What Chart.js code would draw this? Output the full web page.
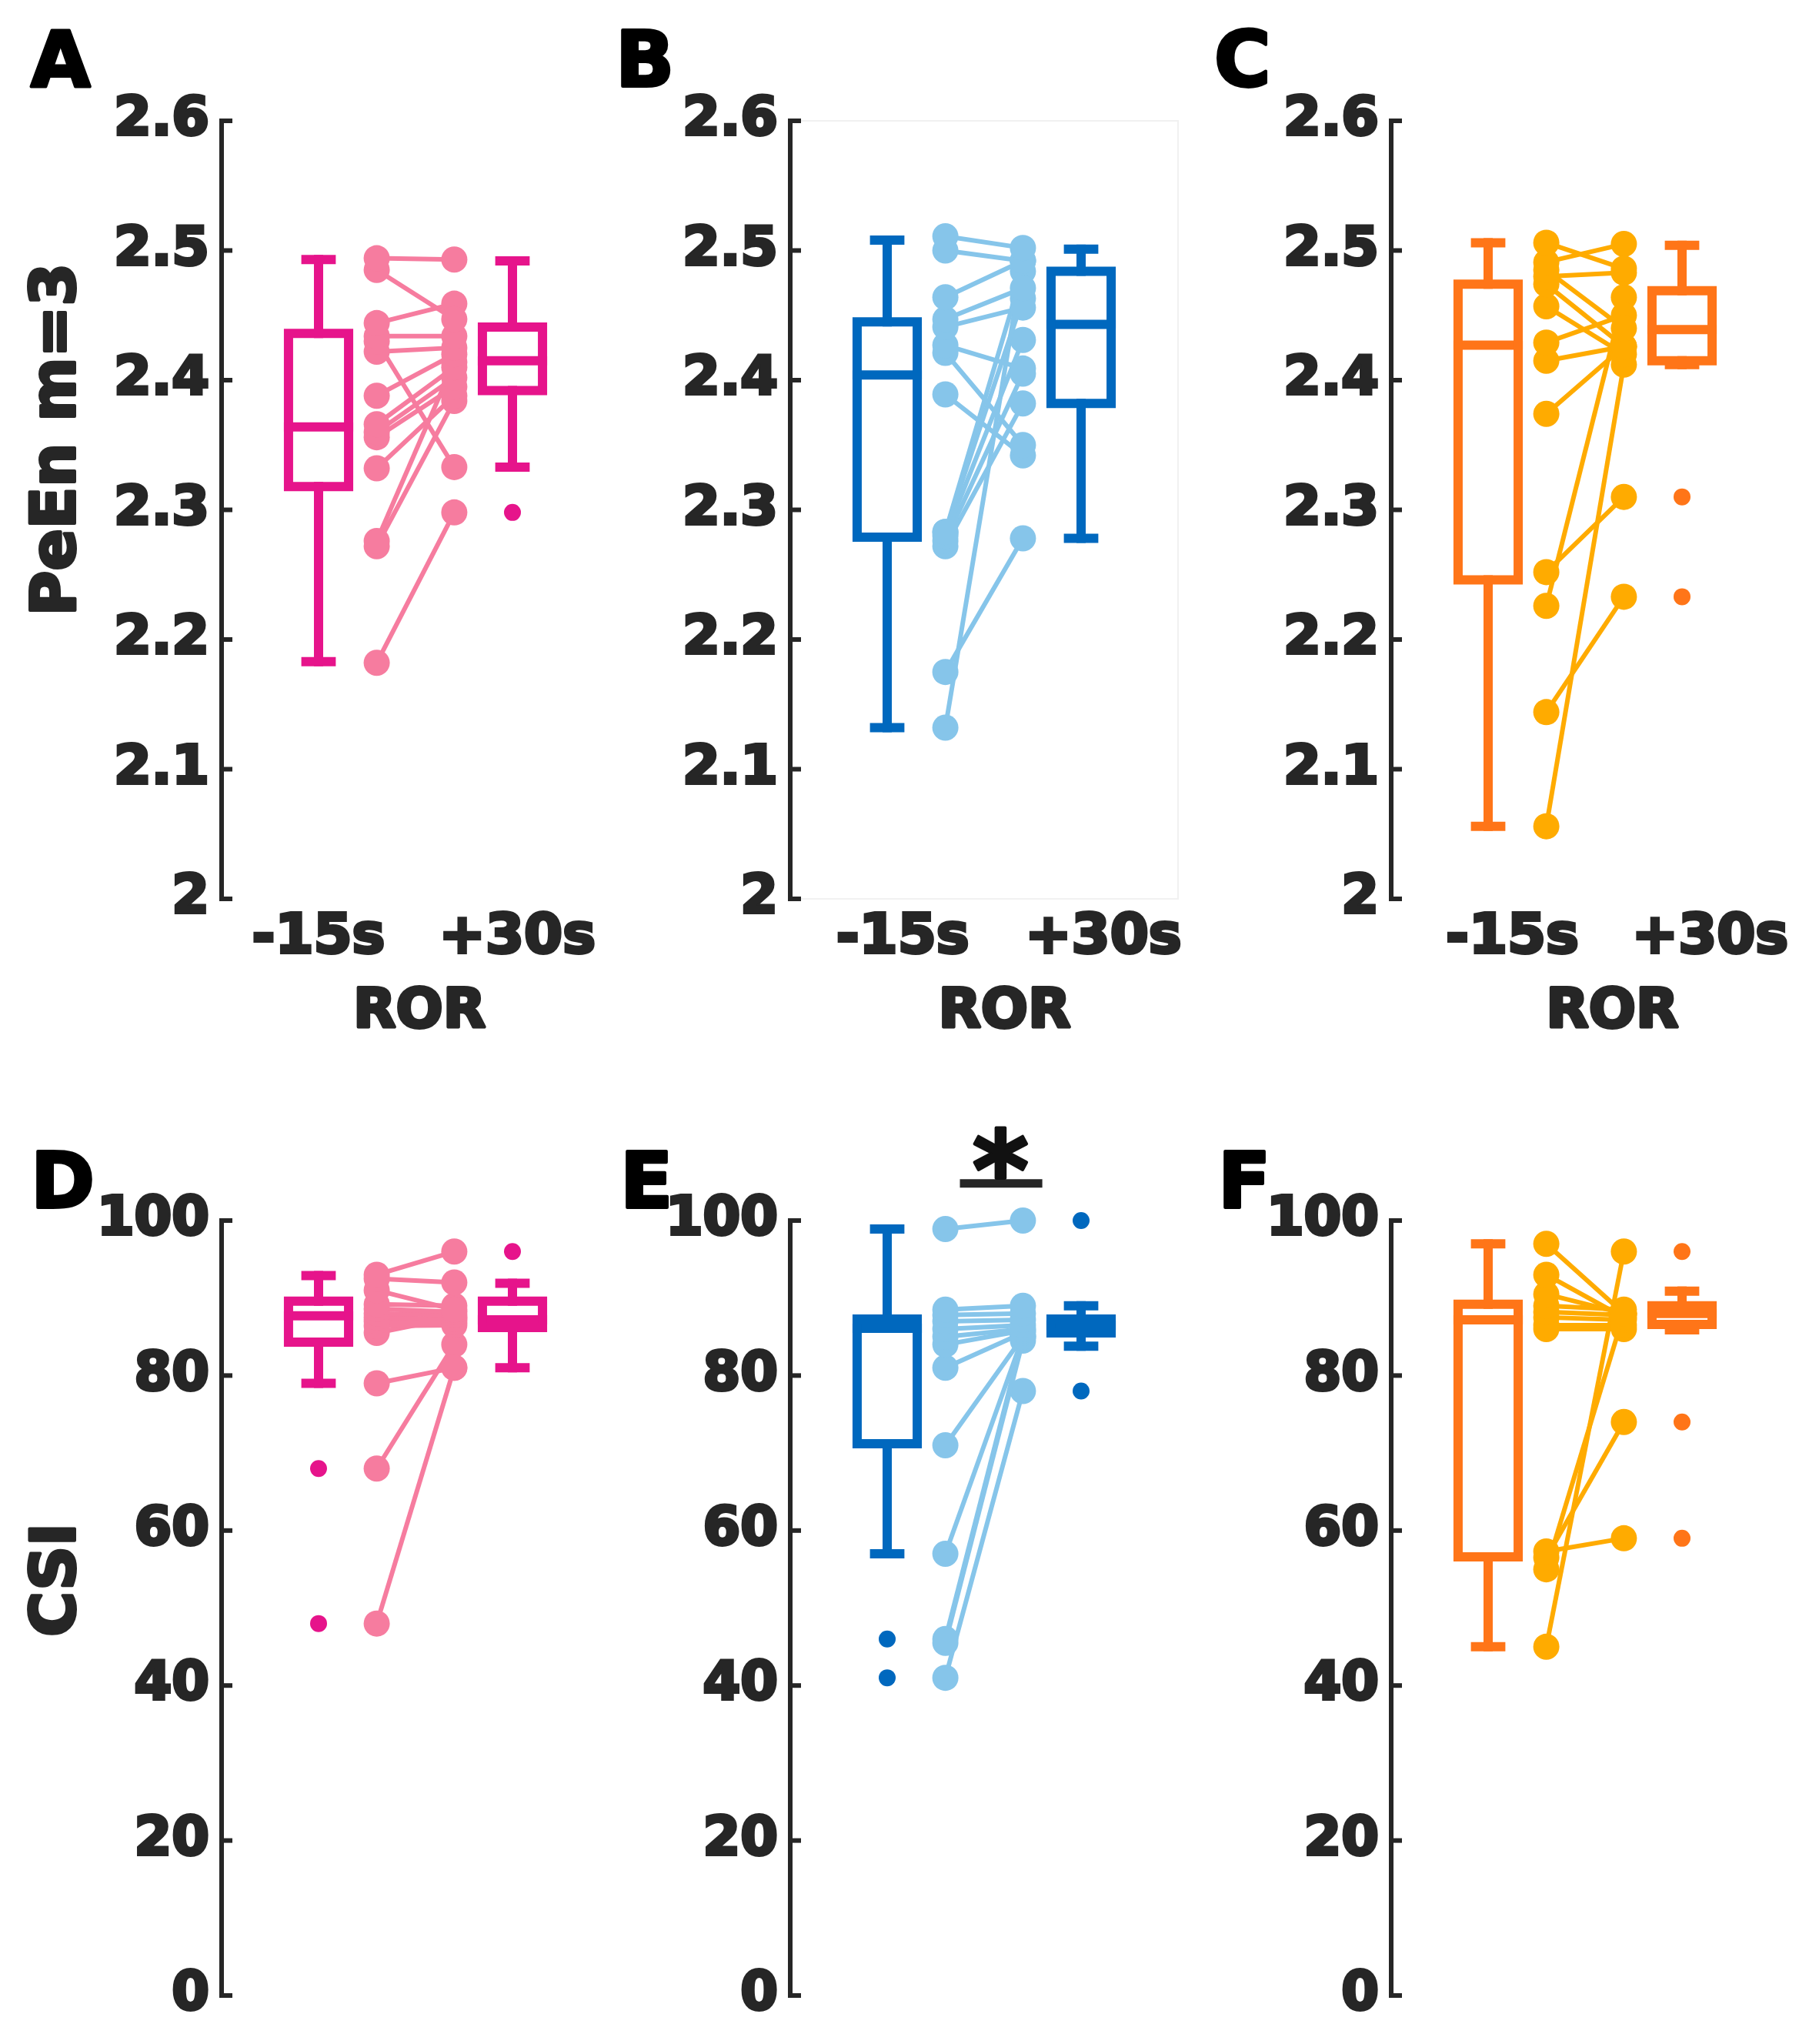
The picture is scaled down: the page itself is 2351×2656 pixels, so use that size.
<!DOCTYPE html>
<html>
<head>
<meta charset="utf-8">
<script src="https://cdn.jsdelivr.net/npm/chart.js@4.4.1/dist/chart.umd.min.js"></script>
<style>
html,body{margin:0;padding:0;background:#ffffff;}
#wrap{position:relative;width:2351px;height:2656px;overflow:hidden;}
#wrap canvas{position:absolute;left:0;top:0;}
</style>
</head>
<body>
<div id="wrap"></div>
<script>
// ================= DATA =================
const panelLetters = ['A', 'B', 'C', 'D', 'E', 'F'];
const yTitles = ['PeEn m=3', 'CSI'];
const xTitle = 'ROR';
const xTickLabels = ['-15s', '+30s'];
// x positions of the two tick labels, per top-row panel (axis units)
const xTickPosA = [1.0, 3.05];
const xTickPosB = [1.16, 3.23];
const xTickPosC = [1.25, 3.29];
const rorTitlePos = [2.04, 2.21, 2.28];

const peenTickValues = [2, 2.1, 2.2, 2.3, 2.4, 2.5, 2.6];
const peenTickLabels = ['2', '2.1', '2.2', '2.3', '2.4', '2.5', '2.6'];
const csiTickValues = [0, 20, 40, 60, 80, 100];
const csiTickLabels = ['0', '20', '40', '60', '80', '100'];

// Box statistics: [min whisker, q1, median, q3, max whisker]
// ---- A : PeEn, group 1 ----
const peenA_boxPre  = [2.183, 2.318, 2.364, 2.436, 2.493];
const peenA_boxPost = [2.333, 2.392, 2.415, 2.441, 2.492];
const peenA_outPre  = [];
const peenA_outPost = [2.298];
const peenA_pre  = [2.494, 2.485, 2.444, 2.434, 2.430, 2.422, 2.388, 2.366, 2.360, 2.356, 2.332, 2.276, 2.272, 2.182];
const peenA_post = [2.493, 2.447, 2.459, 2.434, 2.333, 2.425, 2.420, 2.410, 2.402, 2.395, 2.388, 2.414, 2.384, 2.298];

// ---- B : PeEn, group 2 ----
const peenB_boxPre  = [2.132, 2.279, 2.404, 2.445, 2.508];
const peenB_boxPost = [2.278, 2.382, 2.443, 2.484, 2.501];
const peenB_outPre  = [];
const peenB_outPost = [];
const peenB_pre  = [2.511, 2.500, 2.464, 2.447, 2.441, 2.427, 2.421, 2.389, 2.283, 2.283, 2.280, 2.276, 2.272, 2.175, 2.132];
const peenB_post = [2.502, 2.492, 2.492, 2.471, 2.456, 2.409, 2.350, 2.342, 2.484, 2.463, 2.431, 2.405, 2.382, 2.278, 2.492];

// ---- C : PeEn, group 3 ----
const peenC_boxPre  = [2.056, 2.246, 2.427, 2.474, 2.506];
const peenC_boxPost = [2.412, 2.415, 2.439, 2.469, 2.504];
const peenC_outPre  = [];
const peenC_outPost = [2.310, 2.233];
const peenC_pre  = [2.506, 2.491, 2.485, 2.480, 2.474, 2.457, 2.429, 2.415, 2.374, 2.252, 2.226, 2.144, 2.056];
const peenC_post = [2.486, 2.505, 2.440, 2.483, 2.426, 2.420, 2.450, 2.426, 2.426, 2.310, 2.464, 2.233, 2.412];

// ---- D : CSI, group 1 ----
const csiD_boxPre  = [79.0, 84.3, 87.7, 89.6, 92.9];
const csiD_boxPost = [81.0, 86.2, 87.2, 89.6, 91.9];
const csiD_outPre  = [68.0, 48.0];
const csiD_outPost = [96.0];
const csiD_pre  = [93.0, 92.5, 91.0, 89.2, 88.6, 88.0, 87.5, 87.0, 86.4, 85.5, 79.0, 68.0, 48.0];
const csiD_post = [96.0, 92.0, 88.5, 89.0, 88.2, 87.8, 87.3, 86.9, 86.5, 87.5, 81.0, 84.0, 81.0];

// ---- E : CSI, group 2 ----
const csiE_boxPre  = [57.0, 71.2, 86.1, 87.3, 98.9];
const csiE_boxPost = [83.8, 85.5, 86.5, 87.3, 89.0];
const csiE_outPre  = [46.0, 41.0];
const csiE_outPost = [100.0, 78.0];
const csiE_pre  = [98.9, 88.5, 87.8, 87.0, 86.0, 85.0, 84.0, 81.0, 71.0, 57.0, 46.0, 45.5, 41.0];
const csiE_post = [100.0, 89.0, 88.0, 87.2, 86.5, 86.0, 85.8, 85.5, 85.0, 85.0, 85.0, 84.5, 78.0];
// significance bar (x from, x to, y) and star level
const csiE_sigBar = [1.75, 2.6, 104.8];
const csiE_sigStar = ['*', 2.17, 109.4];

// ---- F : CSI, group 3 ----
const csiF_boxPre  = [45.0, 56.6, 87.2, 89.2, 97.0];
const csiF_boxPost = [85.9, 86.6, 88.0, 89.0, 90.9];
const csiF_outPre  = [];
const csiF_outPost = [96.0, 74.0, 59.0];
const csiF_pre  = [97.0, 93.0, 90.5, 89.0, 88.2, 87.5, 86.5, 86.0, 57.3, 56.5, 55.0, 45.0];
const csiF_post = [88.0, 87.5, 88.0, 88.5, 87.8, 87.2, 86.5, 86.0, 59.0, 74.0, 88.0, 96.0];

// ================= STYLE / LAYOUT =================
const W = 2351, H = 2656;
const FONT = '"DejaVu Sans", Verdana, sans-serif';
const TXT = '#262626';
const ROWS = [{top: 157, bottom: 1168}, {top: 1586, bottom: 2593}];
const AXIS_X = [288, 1027, 1808];
const PLOT_W = 504;
const Y_SCALE_W = 220, X_SCALE_H = 150;
const COLORS = [
  {box: '#E6148B', dot: '#F67C9F'},
  {box: '#0068BE', dot: '#86C5EA'},
  {box: '#FF7518', dot: '#FFAB00'}
];
const POS = {boxPre: 1, left: 1.6, right: 2.4, boxPost: 3};
const BOX_HW = 0.31, CAP_HW = 0.13;
const BOX_LW = 12, PAIR_LW = 6, DOT_R = 17, OUT_R = 11;
const TXT_STROKE = 4;

// ================= PLUGIN =================
function boldText(ctx, s, x, y) {
  ctx.lineWidth = TXT_STROKE; ctx.lineJoin = 'round';
  ctx.strokeStyle = ctx.fillStyle;
  ctx.strokeText(s, x, y);
  ctx.fillText(s, x, y);
}
const decoPlugin = {
  id: 'deco',
  afterDraw(chart, args, o) {
    const ctx = chart.ctx, ca = chart.chartArea;
    const xs = chart.scales.x, ys = chart.scales.y;
    ctx.save();
    if (o.frame) {
      ctx.strokeStyle = '#f1f1f1'; ctx.lineWidth = 2;
      ctx.strokeRect(ca.left, ca.top, ca.right - ca.left, ca.bottom - ca.top);
    }
    const yTop = ys.getPixelForValue(ys.max), yBot = ys.getPixelForValue(ys.min);
    ctx.strokeStyle = TXT; ctx.lineWidth = 6; ctx.lineCap = 'butt';
    ctx.beginPath(); ctx.moveTo(ca.left, yTop - 3); ctx.lineTo(ca.left, yBot + 3); ctx.stroke();
    ys.ticks.forEach(t => {
      const py = ys.getPixelForValue(t.value);
      ctx.beginPath(); ctx.moveTo(ca.left, py); ctx.lineTo(ca.left + 14, py); ctx.stroke();
    });
    ctx.fillStyle = '#000'; ctx.font = 'bold 100px ' + FONT;
    ctx.textAlign = 'left'; ctx.textBaseline = 'alphabetic';
    boldText(ctx, o.letter, o.letterX, o.letterY);
    ctx.fillStyle = TXT;
    if (o.yTitle) {
      ctx.save();
      ctx.translate(o.yTitleX, o.yTitleY); ctx.rotate(-Math.PI / 2);
      ctx.font = 'bold 80px ' + FONT; ctx.textAlign = 'center'; ctx.textBaseline = 'middle';
      boldText(ctx, o.yTitle, 0, 0);
      ctx.restore();
    }
    if (o.xTitle) {
      ctx.font = 'bold 72px ' + FONT; ctx.textAlign = 'center'; ctx.textBaseline = 'middle';
      boldText(ctx, o.xTitle, xs.getPixelForValue(o.xTitlePos), o.xTitleY);
    }
    if (o.sigBar) {
      const [x1, x2, yv] = o.sigBar;
      ctx.strokeStyle = TXT; ctx.lineWidth = 11;
      const py = ys.getPixelForValue(yv);
      ctx.beginPath(); ctx.moveTo(xs.getPixelForValue(x1), py); ctx.lineTo(xs.getPixelForValue(x2), py); ctx.stroke();
      const [txt, sx, sy] = o.sigStar;
      ctx.fillStyle = '#111';
      ctx.font = 'bold 140px ' + FONT; ctx.textAlign = 'center'; ctx.textBaseline = 'alphabetic';
      boldText(ctx, txt, xs.getPixelForValue(sx), ys.getPixelForValue(sy) + 0.56 * 140);
    }
    ctx.restore();
  }
};

// ================= BUILDERS =================
function seg(pts, color, lw) {
  return {
    data: pts.map(p => ({x: p[0], y: p[1]})),
    borderColor: color, backgroundColor: color, borderWidth: lw,
    pointRadius: 0, fill: false, clip: false, tension: 0,
    borderCapStyle: 'square', borderJoinStyle: 'miter'
  };
}
function boxDatasets(stats, c, color) {
  const [mn, q1, md, q3, mx] = stats;
  return [
    seg([[c - BOX_HW, q1], [c + BOX_HW, q1], [c + BOX_HW, q3], [c - BOX_HW, q3], [c - BOX_HW, q1]], color, BOX_LW),
    seg([[c - BOX_HW, md], [c + BOX_HW, md]], color, BOX_LW),
    seg([[c, q3], [c, mx]], color, BOX_LW),
    seg([[c, q1], [c, mn]], color, BOX_LW),
    seg([[c - CAP_HW, mx], [c + CAP_HW, mx]], color, BOX_LW),
    seg([[c - CAP_HW, mn], [c + CAP_HW, mn]], color, BOX_LW)
  ];
}
function outlierDataset(vals, c, color) {
  return {
    data: vals.map(v => ({x: c, y: v})), showLine: false,
    pointRadius: OUT_R, pointBackgroundColor: color, pointBorderColor: color, pointBorderWidth: 0,
    borderColor: color, borderWidth: 0, clip: false
  };
}
function pairDatasets(pre, post, color) {
  return pre.map((v, i) => ({
    data: [{x: POS.left, y: v}, {x: POS.right, y: post[i]}],
    borderColor: color, borderWidth: PAIR_LW,
    pointRadius: DOT_R, pointBackgroundColor: color, pointBorderColor: color, pointBorderWidth: 0,
    fill: false, clip: false, tension: 0
  }));
}

function makePanel(p) {
  const wrap = document.getElementById('wrap');
  const canvas = document.createElement('canvas');
  canvas.width = W; canvas.height = H;
  canvas.style.width = W + 'px'; canvas.style.height = H + 'px';
  wrap.appendChild(canvas);
  const row = ROWS[p.row];
  const showX = p.row === 0;
  const col = COLORS[p.col];
  const axisX = AXIS_X[p.col];
  const datasets = [].concat(
    pairDatasets(p.pre, p.post, col.dot),
    boxDatasets(p.boxPre, POS.boxPre, col.box),
    boxDatasets(p.boxPost, POS.boxPost, col.box),
    [outlierDataset(p.outPre, POS.boxPre, col.box), outlierDataset(p.outPost, POS.boxPost, col.box)]
  );
  const tickFont = {family: FONT, weight: 'bold', size: 70};
  new Chart(canvas, {
    type: 'line',
    data: {datasets},
    options: {
      responsive: false, animation: false, devicePixelRatio: 1, events: [],
      layout: {padding: {
        left: axisX - Y_SCALE_W, right: W - axisX - PLOT_W,
        top: row.top, bottom: H - row.bottom - (showX ? X_SCALE_H : 0)
      }},
      plugins: {
        legend: {display: false}, tooltip: {enabled: false},
        deco: {
          letter: p.letter, letterX: p.letterX, letterY: p.letterY,
          yTitle: p.yTitle, yTitleX: 76, yTitleY: p.yTitleY,
          xTitle: showX ? xTitle : null, xTitlePos: p.xTitlePos, xTitleY: 1316,
          frame: !!p.frame, sigBar: p.sigBar, sigStar: p.sigStar
        }
      },
      scales: {
        x: {
          type: 'linear', min: 0, max: 4, display: showX,
          grid: {display: false, drawTicks: false}, border: {display: false},
          afterBuildTicks: s => { s.ticks = (p.xTicks || []).map(v => ({value: v})); },
          afterFit: s => { s.height = showX ? X_SCALE_H : 0; s.paddingLeft = 0; s.paddingRight = 0; },
          ticks: {
            autoSkip: false, maxRotation: 0, minRotation: 0, padding: 8, color: TXT,
            textStrokeColor: TXT, textStrokeWidth: TXT_STROKE,
            font: {family: FONT, weight: 'bold', size: 72},
            callback: (v, i) => xTickLabels[i]
          }
        },
        y: {
          type: 'linear', min: p.yTicks[0], max: p.yTicks[p.yTicks.length - 1],
          grid: {display: false, drawTicks: false}, border: {display: false},
          afterBuildTicks: s => { s.ticks = p.yTicks.map(v => ({value: v})); },
          afterFit: s => { s.width = Y_SCALE_W; s.paddingTop = 0; s.paddingBottom = 0; },
          ticks: {autoSkip: false, padding: 16, color: TXT, font: tickFont,
            textStrokeColor: TXT, textStrokeWidth: TXT_STROKE,
            callback: (v, i) => p.yLabels[i]}
        }
      }
    },
    plugins: [decoPlugin]
  });
}

const panels = [
  {row: 0, col: 0, letter: panelLetters[0], letterX: 40, letterY: 112, yTitle: yTitles[0], yTitleY: 571,
   pre: peenA_pre, post: peenA_post, boxPre: peenA_boxPre, boxPost: peenA_boxPost, outPre: peenA_outPre, outPost: peenA_outPost,
   yTicks: peenTickValues, yLabels: peenTickLabels, xTicks: xTickPosA, xTitlePos: rorTitlePos[0]},
  {row: 0, col: 1, letter: panelLetters[1], letterX: 800, letterY: 112, frame: true,
   pre: peenB_pre, post: peenB_post, boxPre: peenB_boxPre, boxPost: peenB_boxPost, outPre: peenB_outPre, outPost: peenB_outPost,
   yTicks: peenTickValues, yLabels: peenTickLabels, xTicks: xTickPosB, xTitlePos: rorTitlePos[1]},
  {row: 0, col: 2, letter: panelLetters[2], letterX: 1578, letterY: 112,
   pre: peenC_pre, post: peenC_post, boxPre: peenC_boxPre, boxPost: peenC_boxPost, outPre: peenC_outPre, outPost: peenC_outPost,
   yTicks: peenTickValues, yLabels: peenTickLabels, xTicks: xTickPosC, xTitlePos: rorTitlePos[2]},
  {row: 1, col: 0, letter: panelLetters[3], letterX: 40, letterY: 1569, yTitle: yTitles[1], yTitleY: 2053,
   pre: csiD_pre, post: csiD_post, boxPre: csiD_boxPre, boxPost: csiD_boxPost, outPre: csiD_outPre, outPost: csiD_outPost,
   yTicks: csiTickValues, yLabels: csiTickLabels},
  {row: 1, col: 1, letter: panelLetters[4], letterX: 806, letterY: 1569,
   pre: csiE_pre, post: csiE_post, boxPre: csiE_boxPre, boxPost: csiE_boxPost, outPre: csiE_outPre, outPost: csiE_outPost,
   yTicks: csiTickValues, yLabels: csiTickLabels, sigBar: csiE_sigBar, sigStar: csiE_sigStar},
  {row: 1, col: 2, letter: panelLetters[5], letterX: 1583, letterY: 1569,
   pre: csiF_pre, post: csiF_post, boxPre: csiF_boxPre, boxPost: csiF_boxPost, outPre: csiF_outPre, outPost: csiF_outPost,
   yTicks: csiTickValues, yLabels: csiTickLabels}
];
panels.forEach(makePanel);
</script>
</body>
</html>
